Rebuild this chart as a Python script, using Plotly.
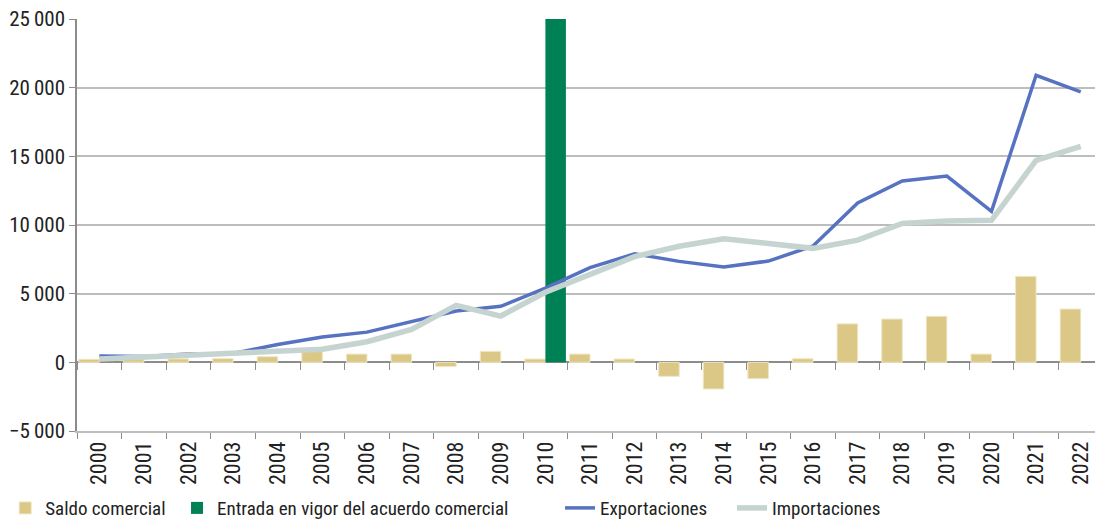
import plotly.graph_objects as go

anios = [str(a) for a in range(2000, 2023)]

saldo = [220, 300, 250, 270, 410, 820, 600, 600, -310, 800, 240, 600,
         240, -1020, -1940, -1190, 260, 2800, 3150, 3350, 600, 6260, 3880]

exportaciones = [460, 420, 600, 650, 1300, 1850, 2200, 2950, 3740, 4080, 5400,
                 6900, 7900, 7350, 6950, 7375, 8470, 11600, 13200, 13560, 11000,
                 20900, 19700]

importaciones = [250, 400, 450, 600, 750, 950, 1500, 2400, 4150, 3370, 5100,
                 6400, 7700, 8450, 9000, 8650, 8300, 8900, 10120, 10290, 10340,
                 14700, 15720]

anio_acuerdo = ["2010"]
valor_acuerdo = [25000]

font_cond = "Liberation Sans Narrow, Roboto Condensed, Liberation Sans, Arial"
gris_eje = "#8c8c8c"
gris_grid = "#bdbdbd"

fig = go.Figure()
fig.add_trace(go.Bar(
    x=anios, y=saldo, name="Saldo comercial", legend="legend",
    marker=dict(color="#dcc886", line=dict(color="#efe6c4", width=1))))
fig.add_trace(go.Bar(
    x=anio_acuerdo, y=valor_acuerdo, name="Entrada en vigor del acuerdo comercial",
    legend="legend2", marker=dict(color="#008055", line=dict(width=0))))
fig.add_trace(go.Scatter(
    x=anios, y=exportaciones, name="Exportaciones", mode="lines", legend="legend3",
    line=dict(color="#5672c0", width=3.5)))
fig.add_trace(go.Scatter(
    x=anios, y=importaciones, name="Importaciones", mode="lines", legend="legend4",
    line=dict(color="#c5d4d1", width=5.5)))
# eje auxiliar para las marcas sobre la linea del cero
fig.add_trace(go.Scatter(
    x=anios, y=[None] * len(anios), xaxis="x2", showlegend=False,
    hoverinfo="skip", mode="lines"))


def leyenda(x):
    return dict(orientation="h", x=x, xanchor="left", y=-0.187, yanchor="middle",
                font=dict(size=19), bgcolor="rgba(0,0,0,0)")


# la pagina deja 8px de margen en el body
fig.update_layout(
    width=1095, height=511,
    margin=dict(l=69, r=0, t=11, b=88, autoexpand=False),
    plot_bgcolor="white", paper_bgcolor="white",
    barmode="group", bargap=0.08, bargroupgap=0,
    separators=".\u2009",
    font=dict(family=font_cond, color="#222222", size=19),
    xaxis=dict(
        type="category", range=[-0.5, 22.5], automargin=False,
        tickson="boundaries", ticks="outside", ticklen=6, tickcolor=gris_eje,
        tickangle=-90, tickfont=dict(size=22),
        showline=True, linecolor=gris_grid, linewidth=1.5,
        showgrid=False),
    xaxis2=dict(
        type="category", range=[-0.5, 22.5], overlaying="x", automargin=False,
        anchor="free", position=5000 / 30000,
        tickson="boundaries", ticks="outside", ticklen=7, tickcolor=gris_eje,
        showticklabels=False, showgrid=False, showline=False),
    yaxis=dict(
        range=[-5000, 25000], dtick=5000, tickformat=",d", automargin=False,
        ticklabeloverflow="allow",
        showgrid=True, gridcolor=gris_grid, gridwidth=1.5,
        zeroline=True, zerolinecolor=gris_eje, zerolinewidth=1.5,
        showline=True, linecolor=gris_eje, linewidth=1.5,
        ticks="outside", ticklen=6, tickcolor=gris_eje,
        tickfont=dict(size=21)),
    legend=leyenda(-0.070),
    legend2=leyenda(0.0975),
    legend3=leyenda(0.4708),
    legend4=leyenda(0.6384),
    showlegend=True)

fig.write_html("out.html")
